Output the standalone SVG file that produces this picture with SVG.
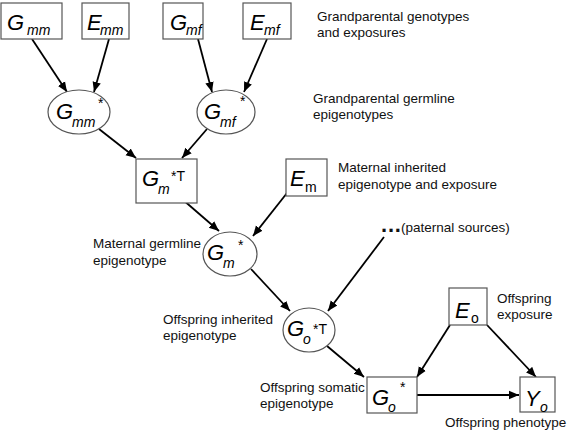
<svg xmlns="http://www.w3.org/2000/svg" width="567" height="432" viewBox="0 0 567 432">
<defs>
<marker id="ah" markerUnits="userSpaceOnUse" markerWidth="10" markerHeight="10" viewBox="0 0 10 10" refX="10" refY="5" orient="auto">
<path d="M0,0.8 L10,5 L0,9.2 Z" fill="#000"/>
</marker>
</defs>
<style>
.box{fill:#fff;stroke:#555;stroke-width:1.2}
.ell{fill:#fff;stroke:#555;stroke-width:1.2}
.edge{stroke:#000;stroke-width:1.8;fill:none;marker-end:url(#ah)}
.lab{font-family:"Liberation Sans",Arial,sans-serif;font-size:13.5px;fill:#111}
.sym{font-family:"Liberation Sans",Arial,sans-serif;font-size:22px;font-style:italic;fill:#000}
.sub{font-size:14px}
.up{font-style:normal}
.sup{font-size:14px;font-style:normal}
</style>
<rect width="567" height="432" fill="#fff"/>
<g id="connectors">
<line class="edge" x1="32" y1="39" x2="67" y2="92"/>
<line class="edge" x1="109" y1="39" x2="94" y2="92"/>
<line class="edge" x1="198" y1="39" x2="212" y2="92"/>
<line class="edge" x1="267" y1="39" x2="244" y2="92"/>
<line class="edge" x1="99" y1="129" x2="136" y2="158"/>
<line class="edge" x1="207" y1="129" x2="182" y2="158"/>
<line class="edge" x1="182" y1="199" x2="219" y2="231"/>
<line class="edge" x1="287" y1="193" x2="253" y2="236"/>
<line class="edge" x1="251" y1="269" x2="290" y2="311"/>
<line class="edge" x1="384" y1="237" x2="328" y2="311"/>
<line class="edge" x1="327" y1="346" x2="364" y2="377"/>
<line class="edge" x1="450" y1="325" x2="417" y2="377"/>
<line class="edge" x1="487" y1="325" x2="536" y2="377"/>
<line class="edge" x1="417" y1="395" x2="519" y2="395"/>
</g>
<g id="Gmm">
<rect class="box" x="1" y="3" width="61" height="36"/>
<text class="sym" x="7" y="30">G<tspan class="sub" x="27" y="35">mm</tspan></text>
</g>
<g id="Emm">
<rect class="box" x="82" y="3" width="47" height="36"/>
<text class="sym" x="87" y="30">E<tspan class="sub" x="100" y="35">mm</tspan></text>
</g>
<g id="Gmf">
<rect class="box" x="163" y="3" width="40" height="36"/>
<text class="sym" x="170" y="30">G<tspan class="sub" x="186" y="35">mf</tspan></text>
</g>
<g id="Emf">
<rect class="box" x="243" y="3" width="48" height="36"/>
<text class="sym" x="250" y="30">E<tspan class="sub" x="264" y="35">mf</tspan></text>
</g>
<g id="GmmStar">
<ellipse class="ell" cx="79" cy="112" rx="31" ry="22"/>
<text class="sym" x="56" y="119">G<tspan class="sub" x="72" y="127">mm</tspan><tspan class="sup" x="98" y="108">*</tspan></text>
</g>
<g id="GmfStar">
<ellipse class="ell" cx="226" cy="112" rx="29" ry="22"/>
<text class="sym" x="204" y="119">G<tspan class="sub" x="220" y="127">mf</tspan><tspan class="sup" x="240" y="106">*</tspan></text>
</g>
<g id="GmStarT">
<rect class="box" x="136" y="159" width="61" height="44"/>
<text class="sym" x="142" y="186">G<tspan class="sub" x="158" y="194">m</tspan><tspan class="sup" x="171" y="181">*T</tspan></text>
</g>
<g id="Em">
<rect class="box" x="286" y="159" width="41" height="37"/>
<text class="sym" x="290" y="186">E<tspan class="sub up" x="305" y="192">m</tspan></text>
</g>
<g id="GmStar">
<ellipse class="ell" cx="230" cy="254" rx="27" ry="22"/>
<text class="sym" x="207" y="260">G<tspan class="sub" x="223" y="268">m</tspan><tspan class="sup" x="238" y="250">*</tspan></text>
</g>
<g id="paternal">
<text class="lab" x="381" y="232" style="font-size:22px;font-weight:bold;letter-spacing:0.8px">...</text>
<text class="lab" x="401" y="232">(paternal sources)</text>
</g>
<g id="GoStarT">
<ellipse class="ell" cx="309" cy="330" rx="26" ry="22"/>
<text class="sym" x="287" y="336">G<tspan class="sub" x="303" y="344">o</tspan><tspan class="sup" x="313" y="334">*T</tspan></text>
</g>
<g id="GoStar">
<rect class="box" x="367" y="377" width="50" height="36"/>
<text class="sym" x="372" y="405">G<tspan class="sub" x="388" y="412">o</tspan><tspan class="sup" x="400" y="392">*</tspan></text>
</g>
<g id="Eo">
<rect class="box" x="449" y="288" width="38" height="37"/>
<text class="sym" x="455" y="318">E<tspan class="sub up" x="471" y="323">o</tspan></text>
</g>
<g id="Yo">
<rect class="box" x="520" y="377" width="35" height="35"/>
<text class="sym" x="525" y="406">Y<tspan class="sub" x="540" y="412">o</tspan></text>
</g>
<g id="labels">
<text class="lab" x="317" y="21">Grandparental genotypes</text>
<text class="lab" x="317" y="37">and exposures</text>
<text class="lab" x="313" y="103">Grandparental germline</text>
<text class="lab" x="313" y="119">epigenotypes</text>
<text class="lab" x="338" y="172">Maternal inherited</text>
<text class="lab" x="338" y="189">epigenotype and exposure</text>
<text class="lab" x="93" y="248">Maternal germline</text>
<text class="lab" x="93" y="265">epigenotype</text>
<text class="lab" x="163" y="324">Offspring inherited</text>
<text class="lab" x="163" y="340">epigenotype</text>
<text class="lab" x="260" y="392">Offspring somatic</text>
<text class="lab" x="260" y="408">epigenotype</text>
<text class="lab" x="497" y="303">Offspring</text>
<text class="lab" x="497" y="319">exposure</text>
<text class="lab" x="445" y="427">Offspring phenotype</text>
</g>
</svg>
